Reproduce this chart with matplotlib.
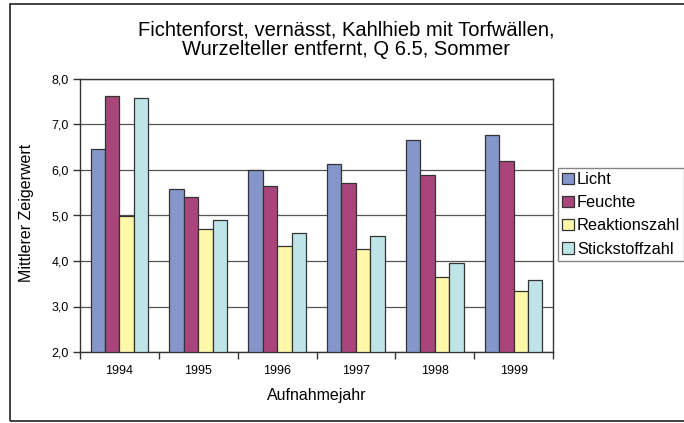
import numpy as np
import matplotlib
matplotlib.use('Agg')
import matplotlib.pyplot as plt
from matplotlib.patches import Rectangle

plt.rcParams['font.family'] = ['Liberation Sans', 'DejaVu Sans']

years = ['1994', '1995', '1996', '1997', '1998', '1999']
licht = [6.46, 5.58, 6.01, 6.14, 6.67, 6.76]
feuchte = [7.63, 5.41, 5.65, 5.71, 5.89, 6.19]
reaktion = [4.99, 4.70, 4.33, 4.26, 3.64, 3.35]
stickstoff = [7.58, 4.91, 4.61, 4.54, 3.95, 3.58]

series = [licht, feuchte, reaktion, stickstoff]
labels = ['Licht', 'Feuchte', 'Reaktionszahl', 'Stickstoffzahl']
colors = ['#8596CB', '#A9457B', '#FFF8A8', '#BEE4E8']

fig = plt.figure(figsize=(6.84, 4.23), dpi=100)
ax = fig.add_axes([80/684, 1-352/423, 473/684, 273/423])

# outer chart frame
fig.patches.append(Rectangle((10/684, 1-421/423), 1.0, 417/423, transform=fig.transFigure,
                             fill=False, edgecolor='#222222', linewidth=1.2, clip_on=False))

x = np.arange(len(years))
w = 0.183
for i, (vals, lab, col) in enumerate(zip(series, labels, colors)):
    ax.bar(x + (i - 1.5) * w, np.array(vals) - 2.0, w, bottom=2.0, color=col,
           edgecolor='#333333', linewidth=0.9, label=lab, zorder=3)

ax.set_xlim(-0.5, len(years) - 0.5)
ax.set_ylim(2, 8)
ax.set_yticks(np.arange(2, 8.1, 1))
ax.set_yticklabels(['%d,0' % v for v in range(2, 9)], fontsize=9)
ax.yaxis.grid(True, color='#555555', linewidth=0.9, zorder=0)

ax.set_xticks(np.arange(-0.5, len(years), 1))
ax.set_xticklabels([])
ax.set_xticks(x, minor=True)
ax.set_xticklabels(years, minor=True, fontsize=9)
ax.tick_params(axis='x', which='minor', length=0, pad=9)
ax.tick_params(axis='x', which='major', length=5, width=1, color='#333333')
ax.tick_params(axis='y', length=5, width=1, color='#333333', pad=3)
for s in ax.spines.values():
    s.set_color('#333333')
    s.set_linewidth(1)

ax.set_xlabel('Aufnahmejahr', fontsize=11.5, labelpad=8)
fig.text(27/684, 1-213/423, 'Mittlerer Zeigerwert', rotation=90, fontsize=11.5,
         ha='center', va='center')

fig.text(0.506, 1-40/423, 'Fichtenforst, vernässt, Kahlhieb mit Torfwällen,\nWurzelteller entfernt, Q 6.5, Sommer',
         ha='center', va='center', fontsize=14.5, linespacing=1.05)

leg = fig.legend(loc='upper left', bbox_to_anchor=(558/684, 1-168/423), fontsize=11.8,
                 frameon=True, fancybox=False, edgecolor='#666666', handlelength=0.7,
                 handleheight=0.7, handletextpad=0.2, borderpad=0.25, labelspacing=0.5,
                 borderaxespad=0)
leg.get_frame().set_linewidth(1)

fig.savefig('out.png', dpi=100)
